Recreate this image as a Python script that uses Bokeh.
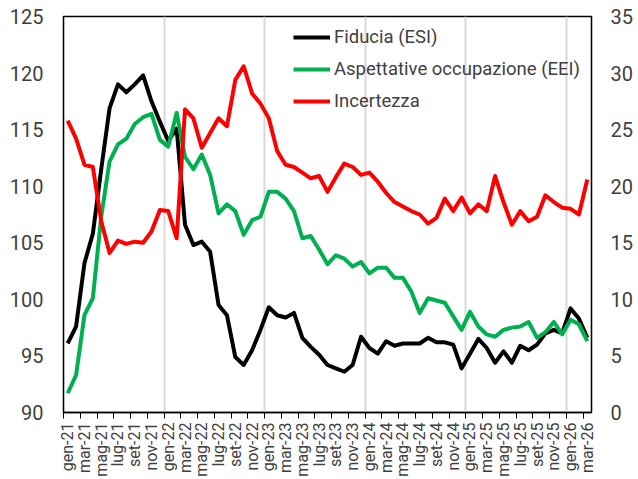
import math
from bokeh.plotting import figure
from bokeh.models import (Range1d, LinearAxis, FixedTicker, Legend, LegendItem, Grid)
from bokeh.embed import file_html
from bokeh.resources import INLINE

# ---- data ----
mesi = ["gen", "feb", "mar", "apr", "mag", "giu", "lug", "ago", "set", "ott", "nov", "dic"]
anni = ["21", "22", "23", "24", "25", "26"]
periodi = [f"{m}-{a}" for a in anni for m in mesi][:63]

fiducia = [96.1, 97.6, 103.2, 105.8, 111.5, 116.9, 119.0, 118.3, 119.0, 119.8, 117.5, 115.7,
           114.0, 115.1, 106.6, 104.8, 105.1, 104.2, 99.5, 98.6, 94.9, 94.2, 95.5, 97.3,
           99.3, 98.6, 98.4, 98.8, 96.6, 95.8, 95.1, 94.2, 93.9, 93.6, 94.2, 96.7,
           95.7, 95.2, 96.3, 95.9, 96.1, 96.1, 96.1, 96.6, 96.2, 96.2, 96.0, 93.9,
           95.2, 96.5, 95.7, 94.4, 95.4, 94.4, 95.9, 95.5, 96.0, 97.0, 97.3, 97.0,
           99.2, 98.3, 96.6]

occupazione = [91.7, 93.3, 98.6, 100.1, 107.3, 112.2, 113.7, 114.2, 115.5, 116.1, 116.4, 114.1,
               113.5, 116.5, 112.6, 111.5, 112.8, 111.0, 107.6, 108.4, 107.8, 105.7, 107.0, 107.3,
               109.5, 109.5, 108.9, 107.8, 105.4, 105.6, 104.4, 103.1, 103.9, 103.6, 102.9, 103.3,
               102.3, 102.8, 102.8, 101.9, 101.9, 100.7, 98.8, 100.1, 99.9, 99.7, 98.5, 97.3,
               98.9, 97.6, 96.9, 96.7, 97.3, 97.5, 97.6, 98.0, 96.6, 97.1, 98.0, 96.9,
               98.2, 97.8, 96.3]

incertezza = [25.8, 24.2, 21.9, 21.7, 16.9, 14.1, 15.2, 14.9, 15.1, 15.0, 16.0, 17.9,
              17.8, 15.4, 26.8, 26.0, 23.4, 24.7, 26.0, 25.3, 29.4, 30.6, 28.2, 27.3,
              26.0, 23.1, 21.9, 21.7, 21.2, 20.7, 20.9, 19.5, 20.8, 22.0, 21.7, 21.0,
              21.2, 20.4, 19.4, 18.6, 18.2, 17.8, 17.5, 16.7, 17.2, 18.9, 17.8, 19.0,
              17.6, 18.4, 17.8, 20.9, 18.6, 16.6, 17.8, 16.9, 17.3, 19.2, 18.6, 18.1,
              18.0, 17.5, 20.6]

left_ticks = [90, 95, 100, 105, 110, 115, 120, 125]
right_ticks = [0, 5, 10, 15, 20, 25, 30, 35]

serie_nomi = ["Fiducia (ESI)", "Aspettative occupazione (EEI)", "Incertezza"]
colori = ["#000000", "#00b050", "#ff0000"]

# ---- figure ----
n = len(periodi)
xs = [i + 0.5 for i in range(n)]
FONT = "Roboto"
TXT = "#404040"

p = figure(width=638, height=479, x_range=Range1d(0, n), y_range=Range1d(left_ticks[0], left_ticks[-1]),
           output_backend="svg", toolbar_location=None,
           x_axis_type=None, y_axis_type=None,
           min_border_left=63, min_border_right=47, min_border_top=16, min_border_bottom=67)
p.extra_y_ranges = {"right": Range1d(right_ticks[0], right_ticks[-1])}
p.outline_line_color = "black"
p.outline_line_width = 1.3
p.background_fill_color = "white"
p.border_fill_color = "white"

# grid at year boundaries
p.add_layout(Grid(dimension=0, ticker=FixedTicker(ticks=[i for i in range(12, n, 12)]),
                  grid_line_color="#d9d9d9", grid_line_width=2))

# x axis
label_idx = list(range(0, n, 2))
xaxis = LinearAxis(ticker=FixedTicker(ticks=[xs[i] for i in label_idx], minor_ticks=label_idx))
xaxis.major_label_overrides = {xs[i]: periodi[i] for i in label_idx}
xaxis.major_label_orientation = math.pi / 2
xaxis.major_tick_line_color = None
xaxis.major_tick_out = 0
xaxis.major_tick_in = 0
xaxis.minor_tick_line_color = "black"
xaxis.minor_tick_out = 6
xaxis.minor_tick_in = 0
xaxis.axis_line_color = "black"
xaxis.axis_line_width = 1.3
xaxis.major_label_standoff = 4
xaxis.major_label_text_font = FONT
xaxis.major_label_text_font_size = "16px"
xaxis.major_label_text_color = TXT
p.add_layout(xaxis, "below")

# left axis
yl = LinearAxis(ticker=FixedTicker(ticks=left_ticks))
yl.major_tick_line_color = None
yl.major_tick_out = 0
yl.major_tick_in = 0
yl.minor_tick_line_color = None
yl.axis_line_color = "black"
yl.axis_line_width = 1.3
yl.major_label_standoff = 20
yl.major_label_text_font = FONT
yl.major_label_text_font_size = "20px"
yl.major_label_text_color = TXT
p.add_layout(yl, "left")

# right axis
yr = LinearAxis(y_range_name="right", ticker=FixedTicker(ticks=right_ticks))
yr.major_tick_line_color = None
yr.major_tick_out = 0
yr.major_tick_in = 0
yr.minor_tick_line_color = None
yr.axis_line_color = "black"
yr.axis_line_width = 1.3
yr.major_label_standoff = 19
yr.major_label_text_font = FONT
yr.major_label_text_font_size = "20px"
yr.major_label_text_color = TXT
p.add_layout(yr, "right")

r1 = p.line(xs, fiducia, line_color=colori[0], line_width=4, line_join="round")
r2 = p.line(xs, occupazione, line_color=colori[1], line_width=4, line_join="round")
r3 = p.line(xs, incertezza, line_color=colori[2], line_width=4, line_join="round", y_range_name="right")

legend = Legend(items=[LegendItem(label=serie_nomi[0], renderers=[r1]),
                       LegendItem(label=serie_nomi[1], renderers=[r2]),
                       LegendItem(label=serie_nomi[2], renderers=[r3])],
                location=(230, 300), orientation="vertical",
                label_text_font=FONT, label_text_font_size="18.5px", label_text_color=TXT,
                glyph_width=37, glyph_height=20, label_height=20, label_standoff=4,
                spacing=10, padding=0, margin=0,
                border_line_color=None, background_fill_alpha=0)
p.add_layout(legend, "center")

open("out.html", "w").write(file_html(p, INLINE))
